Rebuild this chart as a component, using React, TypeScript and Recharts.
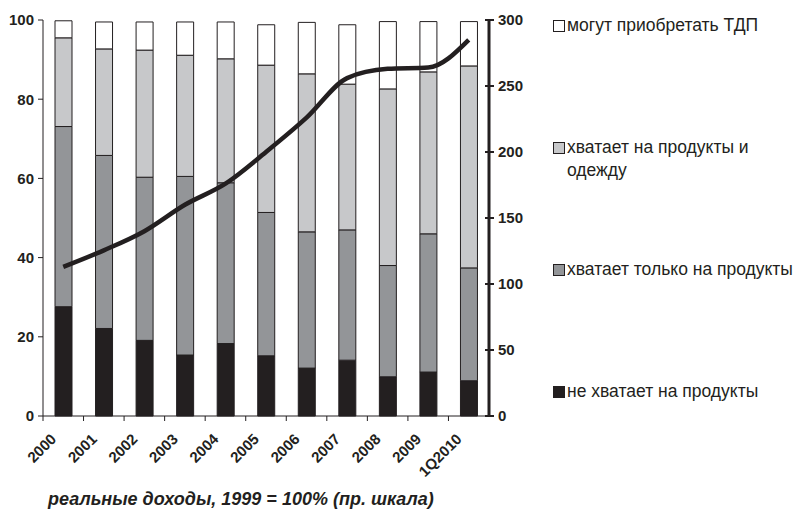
import React from "react";
import { ComposedChart, Bar, Line, XAxis, YAxis } from "recharts";

const years = ["2000", "2001", "2002", "2003", "2004", "2005", "2006", "2007", "2008", "2009", "1Q2010"];
// shares of households, % (left scale), stacked bottom to top
const notEnoughFood = [27.6, 22.1, 19.1, 15.4, 18.3, 15.2, 12.1, 14.1, 9.9, 11.1, 8.9];
const onlyFood = [45.5, 43.7, 41.2, 45.1, 40.6, 36.2, 34.4, 32.9, 28.1, 34.9, 28.5];
const foodAndClothes = [22.4, 26.9, 32.1, 30.6, 31.3, 37.2, 39.9, 36.8, 44.6, 40.9, 51.0];
const durables = [4.3, 6.8, 7.1, 8.4, 9.3, 10.2, 13.0, 15.0, 17.0, 12.7, 11.2];
// real incomes, 1999 = 100 (right scale)
const realIncome = [113, 125.5, 140, 160, 176, 200, 226, 256, 263, 264, 285];

const leftTicks = [0, 20, 40, 60, 80, 100];
const rightTicks = [0, 50, 100, 150, 200, 250, 300];

const legendItems = [
  { key: "durables", label: "могут приобретать ТДП", color: "#ffffff" },
  { key: "foodAndClothes", label: "хватает на продукты и одежду", color: "#c7c8ca" },
  { key: "onlyFood", label: "хватает только на продукты", color: "#939598" },
  { key: "notEnoughFood", label: "не хватает на продукты", color: "#231f20" },
];

const data = years.map((y, i) => ({
  year: y,
  notEnoughFood: notEnoughFood[i],
  onlyFood: onlyFood[i],
  foodAndClothes: foodAndClothes[i],
  durables: durables[i],
  income: realIncome[i],
}));

const INK = "#231f20";
const FONT = "'Liberation Sans', Arial, sans-serif";
const TICK_FS = 15;

const XTick = (props: any) => {
  const { x, y, payload } = props;
  const half = payload && payload.offset ? payload.offset : 20.3;
  const tx = x - 6;
  const ty = y + 24;
  return (
    <g>
      <line x1={x - half} x2={x - half} y1={y} y2={y + 5} stroke={INK} strokeWidth={1} />
      <text
        x={tx}
        y={ty}
        transform={`rotate(-45 ${tx} ${ty})`}
        textAnchor="end"
        fontSize={TICK_FS}
        fontWeight="bold"
        fontFamily={FONT}
        fill={INK}
      >
        {payload.value}
      </text>
    </g>
  );
};

const RightTick = (props: any) => {
  const { x, y, payload } = props;
  return (
    <g>
      <line x1={x - 12} x2={x - 3} y1={y} y2={y} stroke={INK} strokeWidth={2} />
      <text x={x + 1} y={y} dy={5} textAnchor="start" fontSize={TICK_FS} fontWeight="bold" fontFamily={FONT} fill={INK}>
        {payload.value}
      </text>
    </g>
  );
};

const LegendBox = () => (
  <div style={{ position: "absolute", left: 553, top: 0, width: 243, height: 420, fontFamily: FONT, fontSize: 17.5, color: INK }}>
    {legendItems.map((it, i) => (
      <div key={it.key} style={{ position: "absolute", left: 0, top: 14 + i * 122, width: 243, lineHeight: "23px" }}>
        <span
          style={{
            position: "absolute",
            left: 0,
            top: 6,
            width: 10,
            height: 10,
            background: it.color,
            border: `1px solid ${INK}`,
          }}
        />
        <div style={{ marginLeft: 14, width: 228 }}>{it.label}</div>
      </div>
    ))}
  </div>
);

export default function App() {
  return (
    <div style={{ position: "absolute", left: 0, top: 0, width: 796, height: 512, background: "#fff", overflow: "hidden" }}>
      <ComposedChart
        width={796}
        height={512}
        data={data}
        margin={{ top: 20, right: 267, bottom: 36, left: 0 }}
        barCategoryGap={0}
      >
        <XAxis
          dataKey="year"
          tick={<XTick />}
          tickLine={false}
          tickSize={0}
          tickMargin={0}
          interval={0}
          height={60}
          axisLine={{ stroke: INK, strokeWidth: 1 }}
        />
        <YAxis
          yAxisId="left"
          domain={[0, 100]}
          ticks={leftTicks}
          width={43}
          tickSize={5}
          tickMargin={4}
          axisLine={{ stroke: INK, strokeWidth: 1 }}
          tickLine={{ stroke: INK }}
          tick={{ fontSize: TICK_FS, fontWeight: "bold", fontFamily: FONT, fill: INK }}
        />
        <YAxis
          yAxisId="right"
          orientation="right"
          domain={[0, 300]}
          ticks={rightTicks}
          width={40}
          tickSize={0}
          tickMargin={8}
          tickLine={false}
          axisLine={{ stroke: INK, strokeWidth: 3 }}
          tick={<RightTick />}
        />
        <Bar yAxisId="left" dataKey="notEnoughFood" stackId="s" barSize={17} fill="#231f20" stroke={INK} strokeWidth={1} isAnimationActive={false} />
        <Bar yAxisId="left" dataKey="onlyFood" stackId="s" barSize={17} fill="#939598" stroke={INK} strokeWidth={1} isAnimationActive={false} />
        <Bar yAxisId="left" dataKey="foodAndClothes" stackId="s" barSize={17} fill="#c7c8ca" stroke={INK} strokeWidth={1} isAnimationActive={false} />
        <Bar yAxisId="left" dataKey="durables" stackId="s" barSize={17} fill="#ffffff" stroke={INK} strokeWidth={1} isAnimationActive={false} />
        <Line
          yAxisId="right"
          dataKey="income"
          type="monotone"
          stroke={INK}
          strokeWidth={4.5}
          dot={false}
          legendType="none"
          isAnimationActive={false}
        />
      </ComposedChart>
      <LegendBox />
      <div
        style={{
          position: "absolute",
          left: 48,
          top: 489,
          fontFamily: FONT,
          fontSize: 18,
          fontWeight: "bold",
          fontStyle: "italic",
          color: INK,
          whiteSpace: "nowrap",
        }}
      >
        реальные доходы, 1999 = 100% (пр. шкала)
      </div>
    </div>
  );
}
